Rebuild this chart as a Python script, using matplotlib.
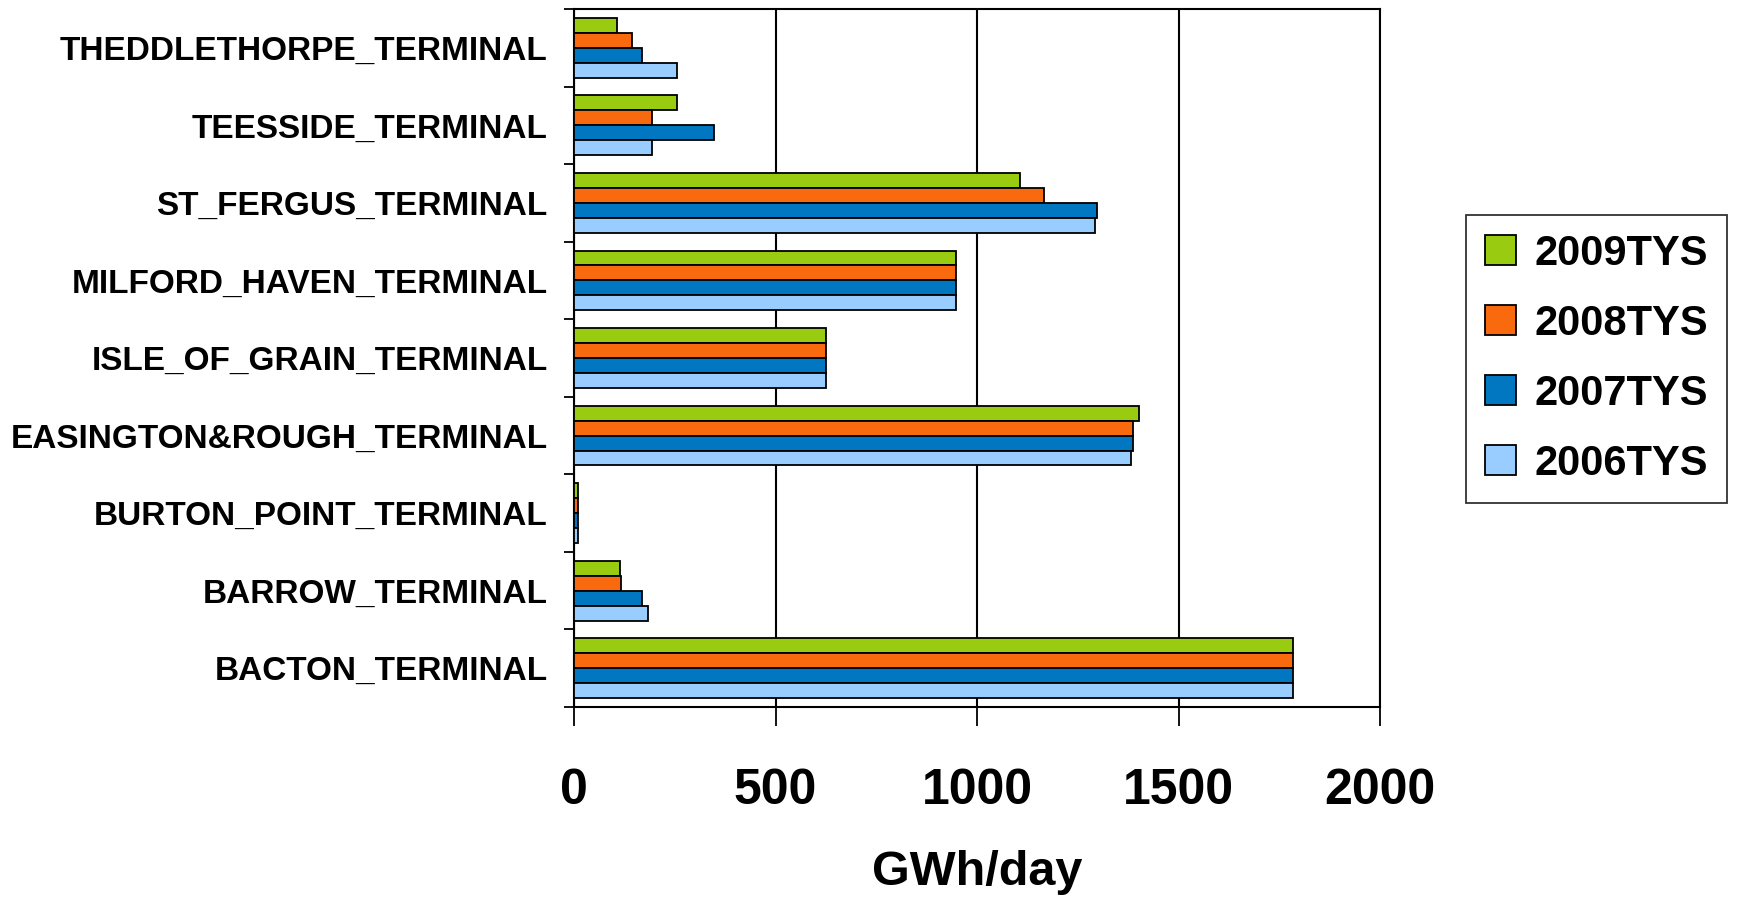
import matplotlib

matplotlib.use("Agg")
import matplotlib.pyplot as plt
import numpy as np

TERMINALS = [
    "BACTON_TERMINAL",
    "BARROW_TERMINAL",
    "BURTON_POINT_TERMINAL",
    "EASINGTON&ROUGH_TERMINAL",
    "ISLE_OF_GRAIN_TERMINAL",
    "MILFORD_HAVEN_TERMINAL",
    "ST_FERGUS_TERMINAL",
    "TEESSIDE_TERMINAL",
    "THEDDLETHORPE_TERMINAL",
]
SERIES = ["2009TYS", "2008TYS", "2007TYS", "2006TYS"]
TYS_2009 = [1783, 113, 10, 1403, 625, 947, 1107, 256, 107]
TYS_2008 = [1783, 117, 10, 1387, 625, 947, 1166, 194, 143]
TYS_2007 = [1783, 169, 10, 1387, 625, 947, 1299, 348, 168]
TYS_2006 = [1783, 184, 10, 1382, 625, 947, 1294, 194, 256]
COLORS = ["#99CC11", "#F9690E", "#0077C0", "#99CCFF"]

plt.rcParams.update({
    "font.family": ["Liberation Sans", "DejaVu Sans"],
    "font.weight": "bold",
})

fig = plt.figure(figsize=(17.44, 9.01), dpi=100)
ax = fig.add_axes([574 / 1744, 1 - 707 / 901, 806 / 1744, 698 / 901])

y = np.arange(len(TERMINALS))
h = 0.193
values = [TYS_2009, TYS_2008, TYS_2007, TYS_2006]
offsets = [1.5 * h, 0.5 * h, -0.5 * h, -1.5 * h]
handles = []
for vals, off, col, name in zip(values, offsets, COLORS, SERIES):
    bars = ax.barh(y + off, vals, height=h, color=col, edgecolor="black",
                   linewidth=1.3, label=name, zorder=3)
    handles.append(bars)

ax.set_xlim(0, 2000)
ax.set_ylim(-0.5, len(TERMINALS) - 0.5)
ax.set_xticks([0, 500, 1000, 1500, 2000])
ax.tick_params(axis="x", length=14, width=1.3, pad=30, labelsize=36)
ax.xaxis.grid(True, color="black", linewidth=1.5, zorder=0)

# category boundaries get the tick marks, centres get the labels
ax.set_yticks(np.arange(-0.5, len(TERMINALS), 1.0))
ax.set_yticklabels([])
ax.set_yticks(y, minor=True)
ax.set_yticklabels(TERMINALS, minor=True, fontsize=24, fontweight="bold")
ax.tick_params(axis="y", which="major", length=7, width=1.3)
ax.tick_params(axis="y", which="minor", length=0, pad=19)

for s in ax.spines.values():
    s.set_color("black")
    s.set_linewidth(1.5)

ax.set_xlabel("GWh/day", fontsize=35, fontweight="bold", labelpad=26)

fig.legend(handles, SERIES, loc="upper left",
           bbox_to_anchor=(1466 / 1744, 1 - 215 / 901),
           fontsize=30, frameon=True, fancybox=False, edgecolor="black",
           handlelength=0.75, handleheight=0.75, labelspacing=0.72,
           handletextpad=0.45, borderpad=0.45, borderaxespad=0)
fig.legends[0].get_frame().set_linewidth(1.3)

fig.savefig("out.png", dpi=100, facecolor="white")
plt.close(fig)
